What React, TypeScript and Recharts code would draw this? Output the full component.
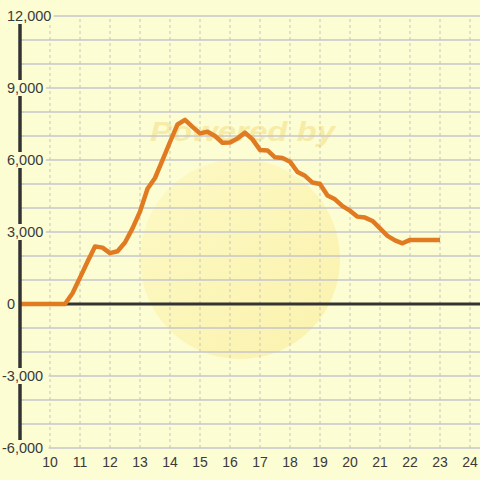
import React from 'react';
import {
  LineChart,
  Line,
  XAxis,
  YAxis,
  ReferenceLine
} from 'recharts';

const hours = [
  9, 9.25, 9.5, 9.75, 10, 10.25, 10.5, 10.75,
  11, 11.25, 11.5, 11.75, 12, 12.25, 12.5, 12.75,
  13, 13.25, 13.5, 13.75, 14, 14.25, 14.5, 14.75,
  15, 15.25, 15.5, 15.75, 16, 16.25, 16.5, 16.75,
  17, 17.25, 17.5, 17.75, 18, 18.25, 18.5, 18.75,
  19, 19.25, 19.5, 19.75, 20, 20.25, 20.5, 20.75,
  21, 21.25, 21.5, 21.75, 22, 22.25, 22.5, 22.75, 23
];

const balance = [
  0, 0, 0, 0, 0, 0, 0, 450,
  1100, 1760, 2400, 2350, 2120, 2200, 2560, 3150,
  3850, 4800, 5250, 5990, 6750, 7480, 7670, 7380,
  7110, 7180, 7000, 6720, 6730, 6900, 7140, 6860,
  6420, 6400, 6110, 6080, 5930, 5500, 5340, 5060,
  5000, 4520, 4360, 4080, 3890, 3640, 3600, 3460,
  3150, 2840, 2650, 2530, 2670, 2670, 2670, 2670, 2670
];

const hourTicks = [10, 11, 12, 13, 14, 15, 16, 17, 18, 19, 20, 21, 22, 23, 24];
const gridTicks = [
  -6000, -5000, -4000, -3000, -2000, -1000, 0, 1000, 2000, 3000,
  4000, 5000, 6000, 7000, 8000, 9000, 10000, 11000, 12000
];
const labelTicks = [-6000, -3000, 0, 3000, 6000, 9000, 12000];

const data = hours.map((h, i) => ({ hour: h, value: balance[i] }));

const BG = '#fdfdd3';
const FONT = '"Liberation Sans", Arial, sans-serif';

const YTick = (props: any) => {
  const v = props.payload.value;
  const text = v.toLocaleString('en-US');
  const x0 = v < 0 ? 2 : 7;
  const w = text.length * 7.6;
  return (
    <g>
      <rect x={x0 - 1} y={props.y - 8} width={w + 2} height={16} fill={BG} />
      <text x={x0} y={props.y} dy={5} textAnchor="start" fontSize={14.5} fill="#3a3a3a" fontFamily={FONT}>
        {text}
      </text>
    </g>
  );
};

const XTick = (props: any) => (
  <text x={props.x} y={props.y} dy={11} textAnchor="middle" fontSize={14} fill="#3a3a3a" fontFamily={FONT}>
    {props.payload.value}
  </text>
);

export default function App() {
  return (
    <div style={{ position: 'absolute', left: 0, top: 0, width: 480, height: 480, background: BG }}>
      <svg width={480} height={480} style={{ position: 'absolute', left: 0, top: 0 }}>
        <defs>
          <linearGradient id="wm" x1="0" y1="0" x2="1" y2="1">
            <stop offset="0" stopColor="#fdf8c0" />
            <stop offset="1" stopColor="#f9eea0" />
          </linearGradient>
        </defs>
        <circle cx={240} cy={259} r={100} fill="url(#wm)" opacity={0.75} />
        <text
          x={150}
          y={141}
          fontSize={28}
          fontWeight="bold"
          fontStyle="italic"
          fill="#f6eca8"
          fontFamily={FONT}
          textLength={185}
          lengthAdjust="spacingAndGlyphs"
        >
          Powered by
        </text>
      </svg>
      <div style={{ position: 'absolute', left: 0, top: 0 }}>
        <LineChart width={480} height={480} data={data} margin={{ top: 16, right: 0, bottom: 0, left: 0 }}>
          {gridTicks.map((v) => (
            <ReferenceLine key={'h' + v} y={v} stroke="#c6c6cc" strokeWidth={1.5} />
          ))}
          {hourTicks.map((h) => (
            <ReferenceLine key={'v' + h} x={h} stroke="#c4c4c8" strokeDasharray="3 3" />
          ))}
          <ReferenceLine y={0} stroke="#333333" strokeWidth={3} />
          <Line
            type="linear"
            dataKey="value"
            stroke="#e07b22"
            strokeWidth={4.5}
            strokeLinejoin="round"
            dot={false}
            isAnimationActive={false}
          />
          <XAxis
            dataKey="hour"
            type="number"
            domain={[9, 24.333]}
            ticks={hourTicks}
            axisLine={false}
            tickLine={false}
            height={32}
            tick={<XTick />}
            allowDataOverflow
          />
          <YAxis
            type="number"
            domain={[-6000, 12000]}
            ticks={labelTicks}
            width={20}
            axisLine={{ stroke: '#333333', strokeWidth: 3.5 }}
            tickLine={false}
            tick={<YTick />}
            interval={0}
          />
        </LineChart>
      </div>
    </div>
  );
}
